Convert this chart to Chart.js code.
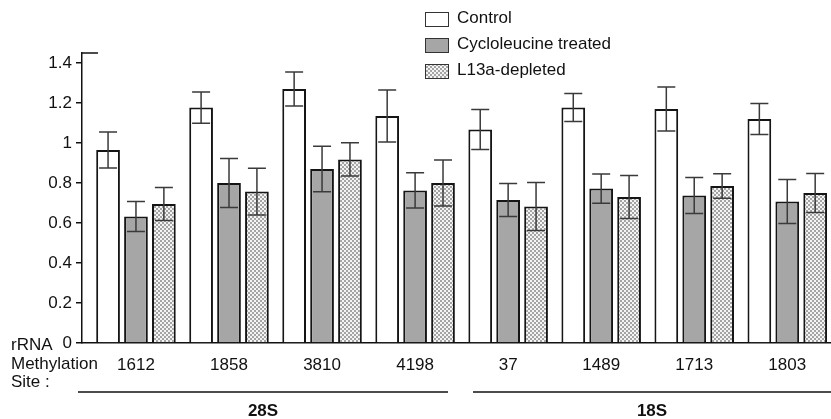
<!doctype html>
<html lang="en">
<head>
  <meta charset="utf-8">
  <title>rRNA methylation</title>
  <script src="https://cdn.jsdelivr.net/npm/chart.js"></script>
  <style>
    html, body { margin: 0; padding: 0; background: #fff; }
    #wrap { width: 831px; height: 419px; }
  </style>
</head>
<body>
<div id="wrap"><canvas id="myChart" width="831" height="419"></canvas></div>
<script>
// data
const sites = ['1612', '1858', '3810', '4198', '37', '1489', '1713', '1803'];
const seriesNames = ['Control', 'Cycloleucine treated', 'L13a-depleted'];
const control = [0.965, 1.177, 1.27, 1.135, 1.067, 1.177, 1.17, 1.12];
const controlErr = [0.09, 0.078, 0.085, 0.13, 0.1, 0.07, 0.11, 0.078];
const cyclo = [0.632, 0.8, 0.87, 0.763, 0.715, 0.772, 0.737, 0.708];
const cycloErr = [0.075, 0.123, 0.114, 0.088, 0.082, 0.073, 0.09, 0.11];
const l13a = [0.695, 0.757, 0.918, 0.8, 0.682, 0.73, 0.785, 0.75];
const l13aErr = [0.082, 0.117, 0.083, 0.115, 0.12, 0.107, 0.061, 0.098];
const groups = ['28S', '18S'];
const yTicks = [0, 0.2, 0.4, 0.6, 0.8, 1, 1.2, 1.4];

const values = [control, cyclo, l13a];
const errors = [controlErr, cycloErr, l13aErr];

// checker fill for the L13a bars (2px cells)
function makePattern() {
  const c = document.createElement('canvas');
  c.width = 4; c.height = 4;
  const g = c.getContext('2d');
  g.fillStyle = '#f4f4f4';
  g.fillRect(0, 0, 4, 4);
  g.fillStyle = '#a4a4a4';
  g.fillRect(0, 0, 2, 2);
  g.fillRect(2, 2, 2, 2);
  return g.createPattern(c, 'repeat');
}
const checker = makePattern();
const fills = ['#ffffff', '#a6a6a6', checker];

const FONT = '"Liberation Sans", Arial, sans-serif';
Chart.defaults.font.family = FONT;
Chart.defaults.font.size = 17;
Chart.defaults.color = '#111';

const extras = {
  id: 'extras',
  afterDatasetsDraw(chart) {
    const ctx = chart.ctx;
    const y = chart.scales.y;
    ctx.save();
    ctx.strokeStyle = '#3a3a3a';
    ctx.lineWidth = 1.5;
    values.forEach((vals, i) => {
      chart.getDatasetMeta(i).data.forEach((bar, j) => {
        const top = y.getPixelForValue(vals[j] + errors[i][j]);
        const bot = y.getPixelForValue(vals[j] - errors[i][j]);
        ctx.beginPath();
        ctx.moveTo(bar.x, top); ctx.lineTo(bar.x, bot);
        ctx.moveTo(bar.x - 9, top); ctx.lineTo(bar.x + 9, top);
        ctx.moveTo(bar.x - 9, bot); ctx.lineTo(bar.x + 9, bot);
        ctx.stroke();
      });
    });
    ctx.restore();
  },
  afterDraw(chart) {
    const ctx = chart.ctx;
    const area = chart.chartArea;
    ctx.save();
    ctx.strokeStyle = '#111';
    ctx.lineWidth = 1.5;
    // cap at the top of the y axis
    ctx.beginPath();
    ctx.moveTo(area.left, area.top); ctx.lineTo(area.left + 16, area.top);
    ctx.stroke();

    // row titles at the left
    ctx.fillStyle = '#111';
    ctx.font = '17px ' + FONT;
    ctx.textAlign = 'left';
    ctx.textBaseline = 'middle';
    ctx.fillText('rRNA', 11, 345);
    ctx.fillText('Methylation', 11, 364);
    ctx.fillText('Site :', 11, 382);

    // group brackets
    const spans = [[78, 448], [473, 831]];
    ctx.lineWidth = 1.5;
    ctx.font = 'bold 17px ' + FONT;
    ctx.textAlign = 'center';
    spans.forEach((s, k) => {
      ctx.beginPath();
      ctx.moveTo(s[0], 392); ctx.lineTo(s[1], 392);
      ctx.stroke();
      ctx.fillText(groups[k], (s[0] + s[1]) / 2, 411);
    });

    // legend
    ctx.font = '17px ' + FONT;
    ctx.textAlign = 'left';
    seriesNames.forEach((name, i) => {
      const yy = 12 + i * 26;
      ctx.fillStyle = fills[i];
      ctx.fillRect(425, yy, 24, 14);
      ctx.lineWidth = 1;
      ctx.strokeStyle = '#333';
      ctx.strokeRect(425.5, yy + 0.5, 23, 14);
      ctx.fillStyle = '#111';
      ctx.fillText(name, 457, yy + 6);
    });
    ctx.restore();
  }
};

const ctx = document.getElementById('myChart').getContext('2d');
const myChart = new Chart(ctx, {
  type: 'bar',
  data: {
    datasets: seriesNames.map((name, i) => ({
      label: name,
      data: values[i].map((v, j) => ({ x: j, y: v })),
      backgroundColor: fills[i],
      borderColor: '#151515',
      borderWidth: 2,
      borderSkipped: 'start',
      categoryPercentage: 0.9,
      barPercentage: 0.85
    }))
  },
  options: {
    responsive: false,
    animation: false,
    layout: { padding: { top: 53, right: 0, left: 0, bottom: 0 } },
    plugins: {
      legend: { display: false },
      tooltip: { enabled: false }
    },
    scales: {
      x: {
        type: 'linear',
        min: -0.58,
        max: 7.47,
        offset: false,
        afterBuildTicks(scale) {
          scale.ticks = sites.map((s, i) => ({ value: i }));
        },
        grid: { display: false, drawTicks: false },
        border: { display: true, color: '#111', width: 1.5 },
        ticks: {
          padding: 12, maxRotation: 0, autoSkip: false, color: '#111',
          callback: v => sites[v]
        },
        afterFit(scale) { scale.height = 76; }
      },
      y: {
        min: 0,
        max: 1.45,
        afterBuildTicks(scale) {
          scale.ticks = yTicks.map(v => ({ value: v }));
        },
        grid: { display: true, drawOnChartArea: false, drawTicks: true, tickLength: 6, color: '#111', lineWidth: 1.5 },
        border: { display: true, color: '#111', width: 1.5 },
        ticks: {
          padding: 4,
          color: '#111',
          callback: v => String(Math.round(v * 10) / 10)
        },
        afterFit(scale) { scale.width = 82; }
      }
    }
  },
  plugins: [extras]
});
</script>
</body>
</html>
